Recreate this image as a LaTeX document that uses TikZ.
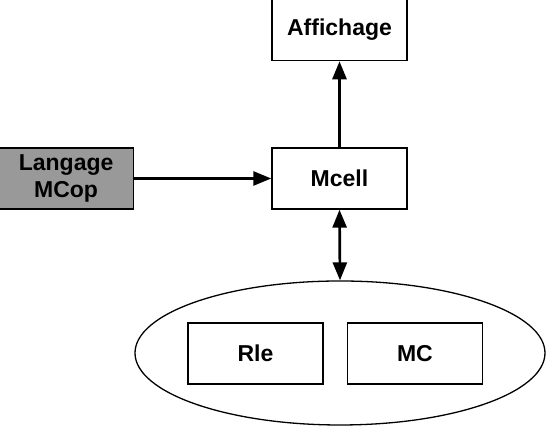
\documentclass[tikz,border=0pt]{standalone}
\usepackage{fontspec}
\setmainfont{Liberation Sans}
\usetikzlibrary{arrows.meta,positioning,shapes.geometric}
\definecolor{my_gray}{RGB}{153, 153, 153}
\tikzset{
  blocknode/.style = {draw, rectangle, line width=0.7pt, minimum width=67.5pt, minimum height=30.5pt,
  inner sep=1pt, align=center, fill=white, font=\fontsize{11.5}{13.3}\selectfont\bfseries},
  blk_in/.style = {blocknode, fill=my_gray},
  blk_base/.style = {draw, ellipse, line width=0.65pt, minimum width=205pt, minimum height=72pt, inner sep=0pt},
  flow/.style = {line width=1.35pt, -{Triangle[length=9pt,width=7pt]}},
  flow2/.style = {line width=1.35pt, {Triangle[length=9pt,width=7pt]}-{Triangle[length=9pt,width=7pt]}}
}
\begin{document}
\begin{tikzpicture}[x=1pt,y=1pt]
    \useasboundingbox (0,0) rectangle (274,216);
    \node [blocknode] (mcell) at (169.75,126.75) {Mcell};
    \node [blocknode, above=43pt of mcell] (affich) {Affichage};
    \node [blk_in, left=68.5pt of mcell] (lang) {Langage\\MCop};
    \node [blk_base] (base) at (170,39.5) {};
    \node [blocknode] (rle) at (127.75,39.25) {Rle};
    \node [blocknode, right=11.5pt of rle] (mc) {MC};
    % connexions
    \draw [flow] (lang) -- (mcell);
    \draw [flow] (mcell) -- (affich);
    \draw [flow2] (mcell.south) -- (base.north);
\end{tikzpicture}
\end{document}
